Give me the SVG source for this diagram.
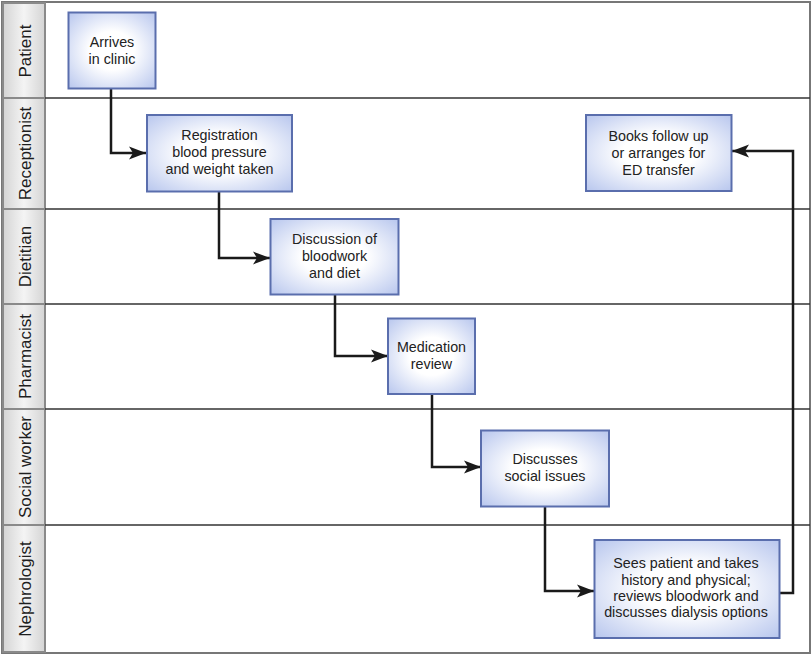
<svg xmlns="http://www.w3.org/2000/svg" width="812" height="655" viewBox="0 0 812 655">
<style>
.hdr{fill:url(#hg);stroke:#8a8a8a;stroke-width:2}
.hl{font-family:"Liberation Sans",Arial,sans-serif;font-size:17px;fill:#1e1e1e;text-anchor:middle;dominant-baseline:central}
.lane{stroke:#333;stroke-width:1.6}
.box{fill:url(#bg);stroke:#5a6ead;stroke-width:2}
.t{font-family:"Liberation Sans",Arial,sans-serif;font-size:14.3px;fill:#222;text-anchor:middle}
.c{fill:none;stroke:#1a1a1a;stroke-width:2.5;marker-end:url(#ah)}
</style>
<defs>
<linearGradient id="hg" x1="0" y1="0" x2="1" y2="0">
<stop offset="0" stop-color="#d4d4d4"/>
<stop offset="0.5" stop-color="#f4f4f4"/>
<stop offset="1" stop-color="#d4d4d4"/>
</linearGradient>
<radialGradient id="bg" cx="0.5" cy="0.5" r="0.72">
<stop offset="0.35" stop-color="#ffffff"/>
<stop offset="1" stop-color="#b5c4ed"/>
</radialGradient>
<marker id="ah" markerUnits="userSpaceOnUse" markerWidth="18" markerHeight="14" refX="17" refY="6.5" orient="auto" overflow="visible">
<path d="M0,0 L17,6.5 L0,13 L4,6.5 z" fill="#1a1a1a"/>
</marker>
</defs>
<rect x="2" y="2" width="808" height="651" fill="#ffffff" stroke="#777" stroke-width="2"/>
<g id="headers">
<g id="h-patient"><rect class="hdr" x="3" y="3" width="42" height="95"/><text class="hl" transform="translate(25,51) rotate(-90)">Patient</text></g>
<g id="h-receptionist"><rect class="hdr" x="3" y="98" width="42" height="111"/><text class="hl" transform="translate(25,153.5) rotate(-90)">Receptionist</text></g>
<g id="h-dietitian"><rect class="hdr" x="3" y="209" width="42" height="95"/><text class="hl" transform="translate(25,256.5) rotate(-90)">Dietitian</text></g>
<g id="h-pharmacist"><rect class="hdr" x="3" y="304" width="42" height="105"/><text class="hl" transform="translate(25,356.5) rotate(-90)">Pharmacist</text></g>
<g id="h-social"><rect class="hdr" x="3" y="409" width="42" height="116"/><text class="hl" transform="translate(25,467) rotate(-90)">Social worker</text></g>
<g id="h-nephrologist"><rect class="hdr" x="3" y="525" width="42" height="127"/><text class="hl" transform="translate(25,589) rotate(-90)">Nephrologist</text></g>
</g>
<g id="lanes">
<line class="lane" x1="45" y1="98" x2="810" y2="98"/>
<line class="lane" x1="45" y1="209" x2="810" y2="209"/>
<line class="lane" x1="45" y1="304" x2="810" y2="304"/>
<line class="lane" x1="45" y1="409" x2="810" y2="409"/>
<line class="lane" x1="45" y1="525" x2="810" y2="525"/>
</g>
<g id="connectors">
<path class="c" d="M111,89 V153 H146"/>
<path class="c" d="M219,192 V258 H270"/>
<path class="c" d="M335,295 V356 H388"/>
<path class="c" d="M432,395 V467 H481"/>
<path class="c" d="M545,507 V591 H594"/>
<path class="c" d="M780,593 H793 V151 H732"/>
</g>
<g id="arrives">
<rect class="box" x="68.5" y="12.5" width="87" height="76"/>
<text class="t" x="112" y="47">Arrives</text>
<text class="t" x="112" y="64">in clinic</text>
</g>
<g id="registration">
<rect class="box" x="147" y="115" width="145" height="76.5"/>
<text class="t" x="219.5" y="140">Registration</text>
<text class="t" x="219.5" y="157">blood pressure</text>
<text class="t" x="219.5" y="174">and weight taken</text>
</g>
<g id="books">
<rect class="box" x="586" y="115" width="145.5" height="76"/>
<text class="t" x="658.5" y="140.5">Books follow up</text>
<text class="t" x="658.5" y="157.5">or arranges for</text>
<text class="t" x="658.5" y="174.5">ED transfer</text>
</g>
<g id="discussion">
<rect class="box" x="270.5" y="219" width="128" height="75.5"/>
<text class="t" x="334.5" y="244">Discussion of</text>
<text class="t" x="334.5" y="261">bloodwork</text>
<text class="t" x="334.5" y="278">and diet</text>
</g>
<g id="medication">
<rect class="box" x="388" y="318.5" width="87" height="75.5"/>
<text class="t" x="431.5" y="352">Medication</text>
<text class="t" x="431.5" y="369">review</text>
</g>
<g id="social">
<rect class="box" x="481" y="430.5" width="128" height="76"/>
<text class="t" x="545" y="464">Discusses</text>
<text class="t" x="545" y="481">social issues</text>
</g>
<g id="nephro">
<rect class="box" x="594.5" y="540" width="185" height="98"/>
<text class="t" x="686" y="568">Sees patient and takes</text>
<text class="t" x="686" y="584.5">history and physical;</text>
<text class="t" x="686" y="601">reviews bloodwork and</text>
<text class="t" x="686" y="617">discusses dialysis options</text>
</g>
</svg>
